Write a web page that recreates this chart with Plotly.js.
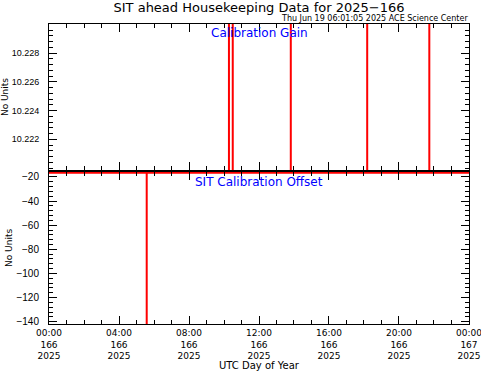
<!DOCTYPE html>
<html>
<head>
<meta charset="utf-8">
<script src="https://cdn.plot.ly/plotly-3.0.1.min.js"></script>
<style>html,body{margin:0;padding:0;background:#fff}#chart{width:481px;height:371px}</style>
</head>
<body>
<div id="chart"></div>
<script>
// Calibration Gain samples (value leaves the plotted range at each event)
var gainTime = ["2025-06-15 00:00", "2025-06-15 10:17", "2025-06-15 10:17", "2025-06-15 10:30", "2025-06-15 10:30",
  "2025-06-15 13:49", "2025-06-15 13:49", "2025-06-15 13:49",
  "2025-06-15 18:11", "2025-06-15 18:11", "2025-06-15 18:11",
  "2025-06-15 21:44", "2025-06-15 21:44", "2025-06-15 21:44", "2025-06-16 00:00"];
var gainValue = [10.2310, 10.2310, 10.2190, 10.2190, 10.2310,
  10.2310, 10.2190, 10.2310,
  10.2310, 10.2190, 10.2310,
  10.2310, 10.2190, 10.2310, 10.2310];

// SIT Calibration Offset samples
var offsetTime = ["2025-06-15 00:00", "2025-06-15 05:35", "2025-06-15 05:35", "2025-06-15 05:35", "2025-06-16 00:00"];
var offsetValue = [-16.5, -16.5, -145, -16.5, -16.5];

// X tick labels
var tickTimes = ["2025-06-15 00:00", "2025-06-15 04:00", "2025-06-15 08:00", "2025-06-15 12:00",
  "2025-06-15 16:00", "2025-06-15 20:00", "2025-06-16 00:00"];
var tickHours = ["00:00", "04:00", "08:00", "12:00", "16:00", "20:00", "00:00"];
var tickDoy = ["166", "166", "166", "166", "166", "166", "167"];
var tickYear = ["2025", "2025", "2025", "2025", "2025", "2025", "2025"];

// Y tick labels
var gainTicks = [10.222, 10.224, 10.226, 10.228];
var offsetTicks = [-20, -40, -60, -80, -100, -120, -140];

var tickText = tickHours.map(function (h, i) { return h + "<br>" + tickDoy[i] + "<br>" + tickYear[i]; });

var FONT = "DejaVu Sans, Liberation Sans, sans-serif";
var YFONT = "Liberation Sans, Arial, sans-serif";
var xRange = ["2025-06-15 00:00", "2025-06-16 00:00:02"];

var xCommon = {
  type: "date", range: xRange, showline: true, linecolor: "#000", linewidth: 1,
  mirror: "ticks", ticks: "inside", ticklen: 8, tickcolor: "#000",
  tickvals: tickTimes, ticktext: tickText, showgrid: false, zeroline: false,
  ticklabeloverflow: "allow",
  minor: { dtick: 3600000, ticks: "inside", ticklen: 4, tickcolor: "#000", showgrid: false },
  tickfont: { family: FONT, size: 9, color: "#000" }
};

var layout = {
  width: 481, height: 371,
  margin: { l: 49, r: 12, t: 24, b: 47 },
  paper_bgcolor: "#fff", plot_bgcolor: "#fff",
  showlegend: false,
  font: { family: FONT, color: "#000" },
  title: { text: "SIT ahead Housekeeping Data for 2025\u2212166", x: 0.5, xref: "paper", xanchor: "center",
    y: 0.981, yref: "container", yanchor: "middle", font: { family: FONT, size: 13, color: "#000" } },
  xaxis: Object.assign({}, xCommon, {
    anchor: "y",
    title: { text: "UTC Day of Year", font: { family: FONT, size: 10, color: "#000" }, standoff: 5 }
  }),
  xaxis2: Object.assign({}, xCommon, { anchor: "y2", matches: "x", showticklabels: false }),
  yaxis: {
    domain: [0, 0.507], range: [-141.9, -15.85], anchor: "x",
    showline: true, linecolor: "#000", mirror: "ticks", ticks: "inside", ticklen: 8, tickcolor: "#000",
    tickvals: offsetTicks, ticktext: offsetTicks.map(function (v) { return String(v).replace("-", "\u2212"); }),
    showgrid: false, zeroline: false, ticklabelstandoff: 7,
    minor: { dtick: 4, ticks: "inside", ticklen: 4, tickcolor: "#000", showgrid: false },
    tickfont: { family: YFONT, size: 10, color: "#000" },
    title: { text: "No Units", font: { family: FONT, size: 9, color: "#000" }, standoff: 2 }
  },
  yaxis2: {
    domain: [0.513, 1], range: [10.21986, 10.23002], anchor: "x2",
    showline: true, linecolor: "#000", mirror: "ticks", ticks: "inside", ticklen: 8, tickcolor: "#000",
    tickvals: gainTicks, ticktext: gainTicks.map(function (v) { return v.toFixed(3); }),
    showgrid: false, zeroline: false, ticklabelstandoff: 7,
    minor: { dtick: 0.0004, tick0: 10.22, ticks: "inside", ticklen: 4, tickcolor: "#000", showgrid: false },
    tickfont: { family: YFONT, size: 9, color: "#000" },
    title: { text: "No Units", font: { family: FONT, size: 9, color: "#000" }, standoff: 2 }
  },
  annotations: [
    { text: "Thu Jun 19 06:01:05 2025 ACE Science Center", xref: "paper", yref: "paper", x: 1, y: 1.0,
      xanchor: "right", yanchor: "bottom", showarrow: false, borderpad: 0, font: { family: FONT, size: 8, color: "#000" } },
    { text: "Calibration Gain", xref: "paper", yref: "paper", x: 0.5, y: 0.97,
      xanchor: "center", yanchor: "middle", showarrow: false, font: { family: FONT, size: 12, color: "#0000ff" } },
    { text: "SIT Calibration Offset", xref: "paper", yref: "paper", x: 0.5, y: 0.473,
      xanchor: "center", yanchor: "middle", showarrow: false, font: { family: FONT, size: 12, color: "#0000ff" } }
  ]
};

var data = [
  { x: gainTime, y: gainValue, xaxis: "x2", yaxis: "y2", type: "scatter", mode: "lines",
    line: { color: "#ff0000", width: 2 }, hoverinfo: "skip" },
  { x: offsetTime, y: offsetValue, xaxis: "x", yaxis: "y", type: "scatter", mode: "lines",
    line: { color: "#ff0000", width: 2 }, hoverinfo: "skip" }
];

Plotly.newPlot("chart", data, layout, { staticPlot: true, displayModeBar: false });
</script>
</body>
</html>
